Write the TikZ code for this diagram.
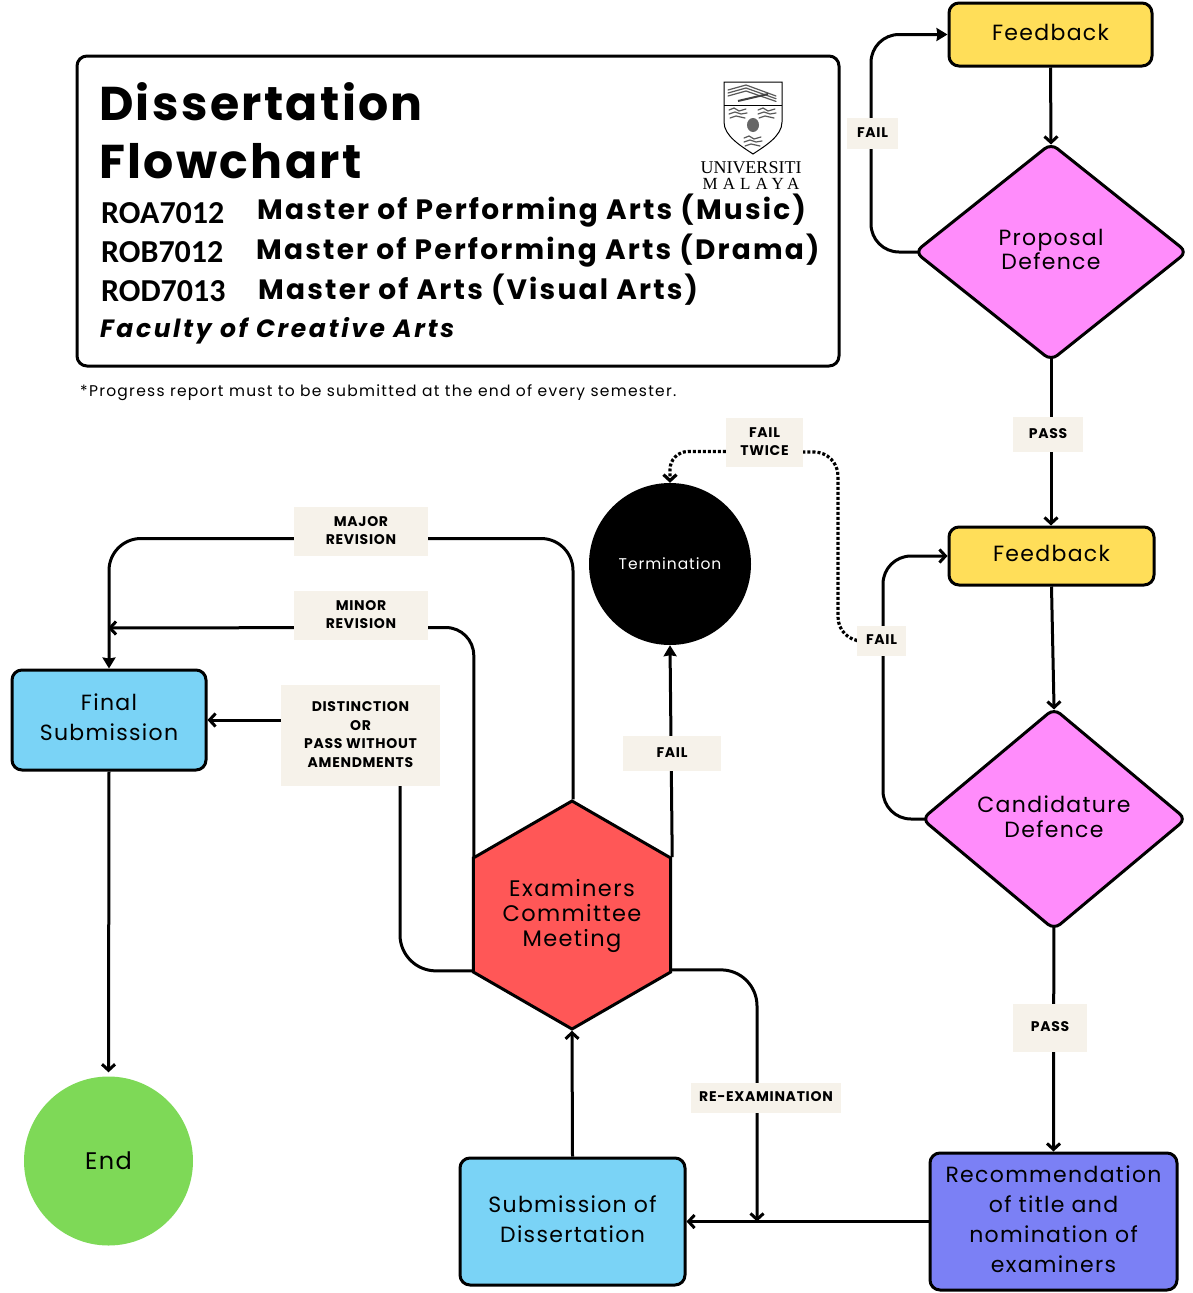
\documentclass[tikz,border=0pt]{standalone}
\usepackage{fontspec}
\usetikzlibrary{shapes.geometric,arrows.meta,backgrounds}
\newfontfamily\bodyfont[LetterSpace=6]{Poppins}
\newfontfamily\tagfont[LetterSpace=5,BoldFont={Poppins Bold}]{Poppins}
\newfontfamily\headfont[LetterSpace=5]{Poppins}
\newfontfamily\progfont[LetterSpace=7.9]{Poppins}
\newfontfamily\facultyfont[LetterSpace=10.4]{Poppins}
\newfontfamily\notefont[LetterSpace=8.2]{Poppins}
\newfontfamily\codefont{Carlito}
\newfontfamily\logofont{Liberation Serif}
\newfontfamily\logowide[LetterSpace=30]{Liberation Serif}
\definecolor{feedyellow}{HTML}{FFDE59}
\definecolor{defpink}{HTML}{FF8CFB}
\definecolor{subblue}{HTML}{7AD3F6}
\definecolor{recblue}{HTML}{7B80F5}
\definecolor{hexred}{HTML}{FF5757}
\definecolor{endgreen}{HTML}{7ED957}
\definecolor{tagcream}{HTML}{F6F2EA}
\tikzset{
  boxnode/.style={draw=black,line width=3pt,rounded corners=10pt,align=center,inner sep=0pt,text depth=5pt,
    font=\bodyfont\fontsize{22}{30}\selectfont},
  tagnode/.style={fill=tagcream,align=center,inner sep=0pt,text depth=2pt,
    font=\tagfont\bfseries\fontsize{14}{18.4}\selectfont},
  defnode/.style={diamond,draw=black,line width=3pt,rounded corners=8pt,fill=defpink,align=center,inner sep=0pt,text depth=5pt,
    font=\bodyfont\fontsize{22}{24.5}\selectfont},
  headnode/.style={anchor=west,inner sep=0pt},
  codenode/.style={headnode,font=\codefont\bfseries\fontsize{32}{32}\selectfont},
  prognode/.style={headnode,font=\progfont\bfseries\fontsize{28}{28}\selectfont},
  conn/.style={draw=black,line width=3pt},
  crest/.style={black!65,line width=1.2pt,line cap=round},
  filledtip/.style={-{Stealth[length=11pt,width=13pt,inset=1pt]}},
  opentip/.style={-{Straight Barb[length=6pt,width=13pt]}},
}
\begin{document}
\begin{tikzpicture}[x=1pt,y=-1pt]
\useasboundingbox (0,0) rectangle (1192,1293);
% header
\node[draw=black,line width=3pt,rounded corners=10pt,minimum width=762pt,minimum height=310pt,inner sep=0pt] (titlebox) at (458,211) {};
\node[headnode,font=\headfont\bfseries\fontsize{47.4}{47.4}\selectfont] (title1) at (99,102) {Dissertation};
\node[headnode,font=\headfont\bfseries\fontsize{47.4}{47.4}\selectfont] (title2) at (99,161) {Flowchart};
\node[codenode] (codea) at (101,213) {ROA7012};
\node[codenode] (codeb) at (101,252) {ROB7012};
\node[codenode] (codec) at (101,291) {ROD7013};
\node[prognode] (proga) at (257,210.5) {Master of Performing Arts (Music)};
\node[prognode] (progb) at (256,250.5) {Master of Performing Arts (Drama)};
\node[prognode] (progc) at (258,290) {Master of Arts (Visual Arts)};
\node[headnode,font=\facultyfont\bfseries\itshape\fontsize{25}{25}\selectfont] (faculty) at (100,331) {Faculty of Creative Arts};
\node[headnode,font=\notefont\fontsize{15.5}{15.5}\selectfont] (note) at (80,393) {*Progress report must to be submitted at the end of every semester.};
% logo
\draw[line width=1pt,fill=white] (724,82) -- (782,82) -- (782,122) .. controls (782,136) and (765,146) .. (753,154) .. controls (741,146) and (724,136) .. (724,122) -- cycle;
\draw[line width=1pt] (724,105) -- (782,105);
\foreach \k in {0,3,6}
  \draw[crest] (728,{90+\k}) -- (746,{85+\k}) -- (776,{96+\k*.9});
\draw[black!75,line width=2pt] (738,101) -- (768,94);
\foreach \cx/\cy in {738/113,767/113,753/141}
  \draw[crest] (\cx-9,\cy-3) -- (\cx-4,\cy-5) -- (\cx+1,\cy-2) -- (\cx+8,\cy-4) (\cx-9,\cy+1) -- (\cx-3,\cy-1) -- (\cx+3,\cy+1) -- (\cx+9,\cy) (\cx-8,\cy+5) -- (\cx-2,\cy+3) -- (\cx+7,\cy+5);
\fill[black!60] (753,125) ellipse (6 and 7);
\node[inner sep=0pt,font=\logofont\fontsize{18}{18}\selectfont] (logoa) at (751,168) {UNIVERSITI};
\node[inner sep=0pt,font=\logowide\fontsize{17}{17}\selectfont] (logob) at (751,184) {MALAYA};
% flow nodes
\node[boxnode,fill=feedyellow,minimum width=203pt,minimum height=63pt] (feedbacka) at (1050.5,34.5) {Feedback};
\node[defnode,minimum width=273pt,minimum height=218pt,aspect=1.26] (proposal) at (1051,252) {Proposal\\Defence};
\node[boxnode,fill=feedyellow,minimum width=205pt,minimum height=58pt] (feedbackb) at (1051.5,556) {Feedback};
\node[defnode,minimum width=265pt,minimum height=222pt,aspect=1.2] (candidature) at (1054,819) {Candidature\\Defence};
\node[boxnode,fill=recblue,minimum width=247pt,minimum height=137pt] (recommend) at (1053.5,1221.5) {Recommendation\\of title and\\nomination of\\examiners};
\node[boxnode,fill=subblue,minimum width=225pt,minimum height=127pt] (submission) at (572.5,1221.5) {Submission of\\Dissertation};
\node[regular polygon,regular polygon sides=6,regular polygon rotate=30,minimum size=228pt,inner sep=0pt,draw=black,line width=3pt,fill=hexred,align=center,font=\bodyfont\fontsize{22.5}{25}\selectfont] (committee) at (572,915) {\rule{0pt}{20pt}Examiners\\Committee\\Meeting};
\node[circle,fill=black,text=white,minimum size=162pt,inner sep=0pt,font=\bodyfont\fontsize{15.5}{15.5}\selectfont] (termination) at (670,564) {Termination};
\node[boxnode,fill=subblue,minimum width=194pt,minimum height=100pt] (final) at (109,720) {Final\\Submission};
\node[circle,fill=endgreen,minimum size=169pt,inner sep=0pt,font=\bodyfont\fontsize{24}{24}\selectfont] (end) at (108.5,1161) {End};
% labels
\node[tagnode,minimum width=51pt,minimum height=31pt] (faila) at (872.5,133.5) {FAIL};
\node[tagnode,minimum width=70pt,minimum height=35pt] (passa) at (1048,434.5) {PASS};
\node[tagnode,minimum width=77pt,minimum height=49pt] (failtwice) at (764.5,442.5) {FAIL\\TWICE};
\node[tagnode,minimum width=49pt,minimum height=30pt] (failb) at (881.5,641) {FAIL};
\node[tagnode,minimum width=134pt,minimum height=49pt] (major) at (361,531.5) {MAJOR\\REVISION};
\node[tagnode,minimum width=134pt,minimum height=49pt] (minor) at (361,615.5) {MINOR\\REVISION};
\node[tagnode,minimum width=159pt,minimum height=101pt] (distinction) at (360.5,735.5) {DISTINCTION\\OR\\PASS WITHOUT\\AMENDMENTS};
\node[tagnode,minimum width=98pt,minimum height=35pt] (failc) at (672,753.5) {FAIL};
\node[tagnode,minimum width=74pt,minimum height=48pt] (passb) at (1050,1028) {PASS};
\node[tagnode,minimum width=150pt,minimum height=30pt] (reexam) at (766,1098) {RE-EXAMINATION};
\coordinate (minorjoin) at (108,628);
\coordinate (reexamjoin) at (757,1221.5);
% connectors
\begin{pgfonlayer}{background}
\draw[conn,opentip,shorten >=-3pt] (feedbacka.south) -- (proposal.north);
\draw[conn,filledtip,rounded corners=28pt] (proposal.center) -| (871,133.5) |- (feedbacka.west);
\draw[conn,opentip] (proposal.center) -- (proposal.center |- feedbackb.north);
\draw[conn,opentip,shorten >=-3pt] (feedbackb.south) -- (candidature.north);
\draw[conn,opentip,rounded corners=28pt] (candidature.center) -| (883,641) |- (feedbackb.west);
\draw[conn,opentip] (candidature.center) -- (recommend.north);
\draw[conn,opentip] (recommend.west) -- (submission.east);
\draw[conn,opentip] (submission.north) -- (committee.corner 4);
\draw[conn,opentip,rounded corners=36pt] ([yshift=3pt]committee.corner 5) -| (reexamjoin);
\draw[conn,filledtip] (committee.corner 6) -- (termination.south);
\draw[conn,filledtip,rounded corners=32pt] ([xshift=1pt]committee.corner 1) |- ([yshift=-7pt]major.center) -| (final.north);
\draw[conn,opentip,rounded corners=28pt] ([xshift=2pt]committee.corner 2) |- ([yshift=-12pt]minor.center) -- (minorjoin);
\draw[conn,rounded corners=36pt] ([yshift=2pt]committee.corner 3) -| ([xshift=39.5pt]distinction.south);
\draw[conn,opentip] ([yshift=15.5pt]distinction.west) -- (final.east);
\draw[conn,opentip,shorten >=4pt] (final.south) -- (end.north);
\draw[conn,dotted,line width=3.2pt,rounded corners=24pt] (failb.west) -| (838,452) -- ([yshift=-9.5pt]failtwice.east);
\draw[conn,dotted,line width=3.2pt,rounded corners=18pt,-{Straight Barb[length=6pt,width=13pt]}] ([yshift=-9pt]failtwice.west) -| (termination.north);
\end{pgfonlayer}
\end{tikzpicture}
\end{document}
